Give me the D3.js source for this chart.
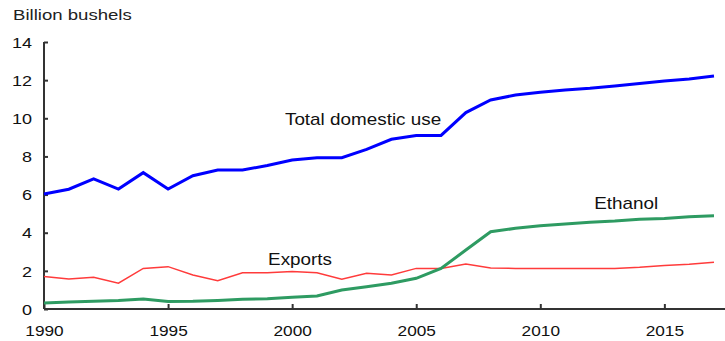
<!DOCTYPE html>
<html>
<head>
<meta charset="utf-8">
<script src="https://cdn.jsdelivr.net/npm/d3@7"></script>
<style>
  body { margin: 0; background: #fff; }
  text { font-family: "Liberation Sans", Arial, sans-serif; }
</style>
</head>
<body>
<div id="chart"></div>
<script>
var years = d3.range(1990, 2018);

// billion bushels
var totalUse = [6.03, 6.28, 6.82, 6.29, 7.15, 6.29, 6.99, 7.29, 7.29, 7.52,
  7.81, 7.93, 7.93, 8.37, 8.9, 9.1, 9.1, 10.3, 10.96, 11.22,
  11.36, 11.48, 11.57, 11.69, 11.83, 11.96, 12.06, 12.22];
var exportsV = [1.7, 1.57, 1.66, 1.35, 2.13, 2.22, 1.78, 1.48, 1.9, 1.9,
  1.96, 1.9, 1.56, 1.87, 1.78, 2.13, 2.13, 2.36, 2.15, 2.13,
  2.13, 2.13, 2.13, 2.13, 2.19, 2.28, 2.35, 2.45];
var ethanol = [0.32, 0.37, 0.4, 0.45, 0.53, 0.39, 0.4, 0.45, 0.51, 0.54,
  0.61, 0.68, 1.0, 1.17, 1.35, 1.61, 2.13, 3.09, 4.05, 4.23,
  4.37, 4.46, 4.55, 4.61, 4.7, 4.75, 4.84, 4.89];

var yTicks = [0, 2, 4, 6, 8, 10, 12, 14];
var xTicks = [1990, 1995, 2000, 2005, 2010, 2015];

var width = 725, height = 341;

var svg = d3.select("#chart")
  .append("svg")
  .attr("width", width)
  .attr("height", height);

var x = d3.scaleLinear().domain([1990, 2017]).range([44, 714]);
var y = d3.scaleLinear().domain([0, 14]).range([309, 42]);

// the source text is a bit stretched sideways
function stretch(dx, dy, s) {
  return "translate(" + dx + "," + dy + ") scale(" + s + ",1)";
}

// y axis
var yAxis = svg.append("g")
  .attr("transform", "translate(44,0)")
  .call(d3.axisRight(y).tickValues(yTicks).tickSize(4).tickFormat(""));
yAxis.select(".domain").attr("d", "M0," + y(14) + "V" + y(0));

yAxis.selectAll(".tick")
  .append("text")
  .attr("transform", stretch(-12, 0, 1.2))
  .attr("dy", "0.35em")
  .attr("text-anchor", "end")
  .attr("fill", "#111")
  .style("font-size", "15px")
  .text(function(d) { return d; });

// x axis
var xAxis = svg.append("g")
  .attr("transform", "translate(0,309)")
  .call(d3.axisTop(x).tickValues(xTicks).tickSize(5).tickFormat(""));
xAxis.select(".domain").attr("d", "M44,0H725");

xAxis.selectAll(".tick")
  .append("text")
  .attr("transform", stretch(0, 22, 1.15))
  .attr("dy", "0.35em")
  .attr("text-anchor", "middle")
  .attr("fill", "#111")
  .style("font-size", "15px")
  .text(function(d) { return d; });

svg.selectAll(".domain, .tick line")
  .attr("stroke", "#333")
  .attr("stroke-width", 2);

var line = d3.line()
  .x(function(d, i) { return x(years[i]); })
  .y(function(d) { return y(d); });

svg.append("path")
  .datum(exportsV)
  .attr("d", line)
  .attr("fill", "none")
  .attr("stroke", "#ff3b3b")
  .attr("stroke-width", 1.5);

svg.append("path")
  .datum(ethanol)
  .attr("d", line)
  .attr("fill", "none")
  .attr("stroke", "#2e9b62")
  .attr("stroke-width", 3);

svg.append("path")
  .datum(totalUse)
  .attr("d", line)
  .attr("fill", "none")
  .attr("stroke", "#0000ff")
  .attr("stroke-width", 3);

// labels
svg.append("text")
  .attr("transform", stretch(13, 20, 1.24))
  .style("font-size", "15px")
  .attr("fill", "#222")
  .text("Billion bushels");

var labels = [
  { t: "Total domestic use", yr: 1999.71, v: 9.65 },
  { t: "Exports", yr: 1999.03, v: 2.31 },
  { t: "Ethanol", yr: 2012.17, v: 5.24 }
];
svg.selectAll(".lbl")
  .data(labels)
  .enter()
  .append("text")
  .attr("class", "lbl")
  .attr("transform", function(d) { return stretch(x(d.yr), y(d.v), 1.18); })
  .style("font-size", "16px")
  .attr("fill", "#111")
  .text(function(d) { return d.t; });
</script>
</body>
</html>
